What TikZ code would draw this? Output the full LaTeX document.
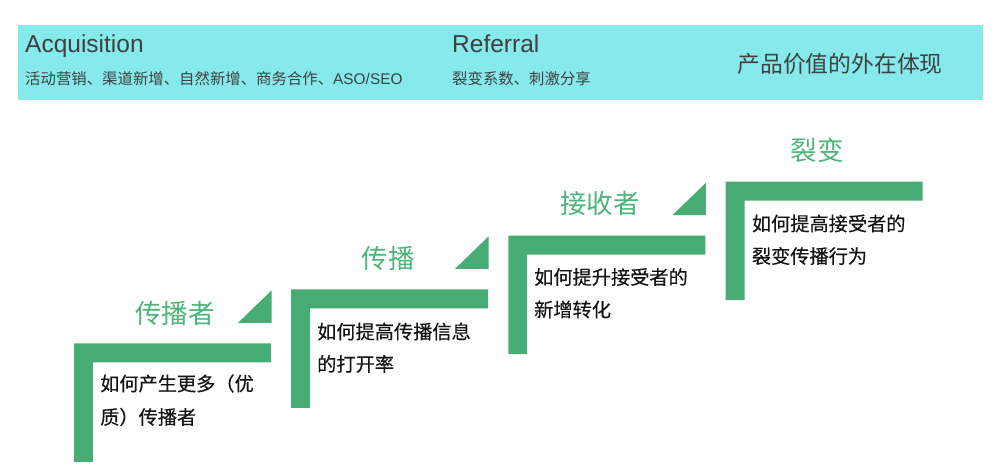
\documentclass[tikz,border=0pt]{standalone}
\usepackage{fontspec}
\setmainfont{Liberation Sans}
\newfontfamily\cjk{Noto Sans CJK SC}
\newfontfamily\cjkbody[FakeBold=0.35]{Noto Sans CJK SC}
\definecolor{banner}{RGB}{134,233,235}
\definecolor{stepgreen}{RGB}{72,173,117}
\definecolor{labgreen}{RGB}{76,180,122}
\definecolor{headgray}{RGB}{64,64,64}
\definecolor{bodyblack}{RGB}{20,20,20}
\tikzset{
  stepbar/.style={fill=stepgreen, draw=none},
  heading/.style={inner sep=0pt, text=headgray, font=\fontsize{24.5}{28}\selectfont},
  subhead/.style={inner sep=0pt, text=headgray, font=\fontsize{15.4}{18}\selectfont},
  steplabel/.style={inner sep=0pt, text=labgreen, font=\cjk\fontsize{26.5}{30}\selectfont},
  bodytext/.style={inner sep=0pt, anchor=west, text=bodyblack, font=\cjkbody\fontsize{19.2}{23}\selectfont},
}
\begin{document}
\begin{tikzpicture}[x=1pt,y=-1pt]
\useasboundingbox (0,0) rectangle (998,475);
% banner
\fill[banner] (18,25) rectangle (983,100);
\node[heading, anchor=base west] (acq) at (25,52.5) {Acquisition};
\node[subhead, anchor=base west] (acqsub) at (25,84.5) {{\cjk 活动营销、渠道新增、自然新增、商务合作、}ASO/SEO};
\node[heading, anchor=base west] (ref) at (452,52.5) {Referral};
\node[subhead, anchor=base west] (refsub) at (452,84.5) {\cjk 裂变系数、刺激分享};
\node[inner sep=0pt, text=headgray, font=\cjk\fontsize{22.8}{26}\selectfont] (value) at (840,63.5) {产品价值的外在体现};
% steps
\foreach \L/\T in {74/343.3, 291/289.3, 508.3/235.7, 725.7/181.7}{
  \fill[stepbar] (\L,\T) -- (\L+197,\T) -- (\L+197,\T+19) -- (\L+18.8,\T+19) -- (\L+18.8,\T+118.5) -- (\L,\T+118.5) -- cycle;
}
\foreach \L/\T in {74/343.3, 291/289.3, 508.3/235.7}{
  \fill[stepbar] (\L+164,\T-20.5) -- (\L+197.5,\T-20.5) -- (\L+197.5,\T-52.8) -- cycle;
}
% labels
\node[steplabel] (l1) at (175,313) {传播者};
\node[steplabel] (l2) at (388,258) {传播};
\node[steplabel] (l3) at (600,203) {接收者};
\node[steplabel] (l4) at (817,150) {裂变};
% body texts
\node[bodytext] (b1a) at (100,383.5) {如何产生更多（优};
\node[bodytext] (b1b) at (100,417) {质）传播者};
\node[bodytext] (b2a) at (317,331.5) {如何提高传播信息};
\node[bodytext] (b2b) at (317,364) {的打开率};
\node[bodytext] (b3a) at (534,277) {如何提升接受者的};
\node[bodytext] (b3b) at (534,309.5) {新增转化};
\node[bodytext] (b4a) at (751.7,223.5) {如何提高接受者的};
\node[bodytext] (b4b) at (751.7,256) {裂变传播行为};
\end{tikzpicture}
\end{document}
